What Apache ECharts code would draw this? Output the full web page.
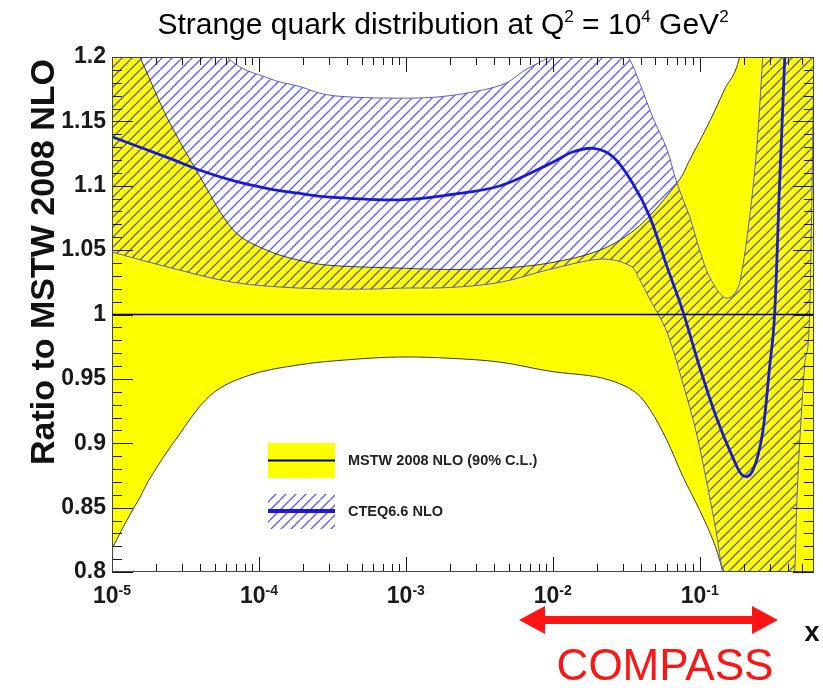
<!DOCTYPE html>
<html>
<head>
<meta charset="utf-8">
<script src="https://cdn.jsdelivr.net/npm/echarts@6/dist/echarts.min.js"></script>
<style>
  html, body { margin: 0; padding: 0; background: #fff; }
  #chart { width: 823px; height: 696px; }
</style>
</head>
<body>
<div id="chart"></div>
<script>
// Axis ranges and tick values
const xMin = 1e-5, xMax = 0.6;
const yMin = 0.8, yMax = 1.2;
const xDecades = [1e-5, 1e-4, 1e-3, 1e-2, 1e-1];
const yLabels = [0.8, 0.85, 0.9, 0.95, 1, 1.05, 1.1, 1.15, 1.2];

// MSTW 2008 NLO 90% C.L. band, as a ratio to its own central value
const mstwUpX = [1e-5, 1.55e-5, 2.37e-5, 3.97e-5, 6.65e-5, 1.13e-4, 1.9e-4, 3.2e-4, 9.1e-4, 2e-3, 4.4e-3, 9.5e-3, 2.1e-2, 3.9e-2, 7e-2, 8.55e-2, 0.117, 0.148, 0.187, 0.25, 0.6];
const mstwUpY = [1.245, 1.2, 1.153, 1.107, 1.066, 1.05, 1.042, 1.038, 1.036, 1.035, 1.036, 1.04, 1.05, 1.069, 1.102, 1.12, 1.15, 1.175, 1.2, 1.28, 1.5];
const mstwLoX = [1e-5, 1.26e-5, 1.55e-5, 1.82e-5, 2.68e-5, 4.65e-5, 8.7e-5, 1.9e-4, 4.2e-4, 9.1e-4, 2e-3, 4.4e-3, 9.5e-3, 2.1e-2, 3.5e-2, 4.6e-2, 6e-2, 7.7e-2, 0.1, 0.123, 0.141, 0.17, 0.6];
const mstwLoY = [0.818, 0.84, 0.858, 0.873, 0.902, 0.937, 0.953, 0.961, 0.965, 0.967, 0.966, 0.963, 0.956, 0.951, 0.941, 0.926, 0.902, 0.874, 0.848, 0.825, 0.804, 0.77, 0.5];
const mstwCentral = [[xMin, 1], [xMax, 1]];

// CTEQ6.6 NLO uncertainty band and central curve, ratio to MSTW 2008 NLO
const cteqUpX = [1e-5, 3e-5, 6.06e-5, 1.13e-4, 1.9e-4, 3.2e-4, 9.1e-4, 2e-3, 4.4e-3, 6.5e-3, 9.5e-3, 1.6e-2, 2.6e-2, 3.34e-2, 3.9e-2, 4.8e-2, 6e-2, 7e-2, 8.55e-2, 0.1, 0.117, 0.148, 0.179, 0.196, 0.219, 0.244, 0.268, 0.3, 0.6];
const cteqUpY = [1.34, 1.25, 1.2, 1.184, 1.177, 1.17, 1.168, 1.17, 1.178, 1.19, 1.2, 1.215, 1.215, 1.198, 1.18, 1.153, 1.128, 1.102, 1.076, 1.05, 1.029, 1.013, 1.019, 1.037, 1.076, 1.128, 1.198, 1.3, 1.6];
const cteqLoX = [1e-5, 2.37e-5, 6.65e-5, 1.9e-4, 5.4e-4, 9.1e-4, 2e-3, 4.4e-3, 9.5e-3, 2.1e-2, 3.34e-2, 3.9e-2, 4.57e-2, 6e-2, 7.66e-2, 9.5e-2, 0.112, 0.13, 0.141, 0.2, 0.3, 0.4, 0.443, 0.457, 0.479, 0.518, 0.56, 0.6];
const cteqLoY = [1.0485, 1.037, 1.025, 1.0205, 1.0197, 1.0205, 1.021, 1.025, 1.035, 1.043, 1.038, 1.027, 1.012, 0.986, 0.947, 0.908, 0.869, 0.83, 0.804, 0.7, 0.66, 0.74, 0.8, 0.85, 0.9, 0.96, 1.0, 1.2];
const cteqX = [1e-5, 2.37e-5, 3.97e-5, 6.65e-5, 1.13e-4, 1.9e-4, 3.2e-4, 9.1e-4, 2e-3, 4.4e-3, 9.5e-3, 1.35e-2, 1.9e-2, 2.6e-2, 3.5e-2, 4.57e-2, 6e-2, 7.66e-2, 0.1, 0.13, 0.168, 0.196, 0.23, 0.268, 0.299, 0.324, 0.35, 0.379, 0.42];
const cteqY = [1.138, 1.122, 1.112, 1.104, 1.098, 1.094, 1.091, 1.089, 1.093, 1.1, 1.117, 1.126, 1.129, 1.122, 1.102, 1.076, 1.037, 1.003, 0.959, 0.92, 0.889, 0.875, 0.879, 0.908, 0.959, 1.001, 1.102, 1.198, 1.35];

const FONT = '"Liberation Sans", Arial, Helvetica, sans-serif';
const YELLOW = '#ffff00';
const BLUE = '#1a1ad6';

// Diagonal "/" hatch tile, used as a repeating fill
function hatchTile(period, color, width) {
  const c = document.createElement('canvas');
  c.width = c.height = period;
  const ctx = c.getContext('2d');
  ctx.strokeStyle = color;
  ctx.lineWidth = width;
  for (const k of [-period, 0, period]) {
    ctx.beginPath();
    ctx.moveTo(k, period);
    ctx.lineTo(k + period, 0);
    ctx.stroke();
  }
  return c;
}
const hatchFill = { image: hatchTile(10, 'rgba(25,25,225,0.68)', 1.4), repeat: 'repeat' };

// Catmull-Rom smoothing of a pixel polyline into cubic Bezier commands
function smoothSegs(pts) {
  let d = '';
  for (let i = 0; i < pts.length - 1; i++) {
    const p0 = pts[Math.max(i - 1, 0)], p1 = pts[i], p2 = pts[i + 1], p3 = pts[Math.min(i + 2, pts.length - 1)];
    const c1x = p1[0] + (p2[0] - p0[0]) / 6, c1y = p1[1] + (p2[1] - p0[1]) / 6;
    const c2x = p2[0] - (p3[0] - p1[0]) / 6, c2y = p2[1] - (p3[1] - p1[1]) / 6;
    d += ' C' + c1x.toFixed(2) + ',' + c1y.toFixed(2) + ' ' + c2x.toFixed(2) + ',' + c2y.toFixed(2) + ' ' + p2[0].toFixed(2) + ',' + p2[1].toFixed(2);
  }
  return d;
}
function toPixels(api, xs, ys) {
  return xs.map((x, i) => api.coord([x, ys[i]]));
}
function openPath(pts) {
  return 'M' + pts[0][0].toFixed(2) + ',' + pts[0][1].toFixed(2) + smoothSegs(pts);
}
function bandPath(up, lo) {
  const rev = lo.slice().reverse();
  return openPath(up) + ' L' + rev[0][0].toFixed(2) + ',' + rev[0][1].toFixed(2) + smoothSegs(rev) + ' Z';
}

function bandSeries(name, upX, upY, loX, loY, fill, edgeColor, z) {
  return {
    type: 'custom',
    name: name,
    z: z,
    clip: true,
    silent: true,
    data: [[1e-3, 1]],
    renderItem: function (params, api) {
      const up = toPixels(api, upX, upY);
      const lo = toPixels(api, loX, loY);
      return {
        type: 'group',
        children: [
          { type: 'path', shape: { pathData: bandPath(up, lo) }, style: { fill: fill, stroke: null } },
          { type: 'path', shape: { pathData: openPath(up) }, style: { fill: null, stroke: edgeColor, lineWidth: 1 } },
          { type: 'path', shape: { pathData: openPath(lo) }, style: { fill: null, stroke: edgeColor, lineWidth: 1 } }
        ]
      };
    }
  };
}

function curveSeries(name, xs, ys, color, width, z) {
  return {
    type: 'custom',
    name: name,
    z: z,
    clip: true,
    silent: true,
    data: [[1e-3, 1]],
    renderItem: function (params, api) {
      return {
        type: 'path',
        shape: { pathData: openPath(toPixels(api, xs, ys)) },
        style: { fill: null, stroke: color, lineWidth: width, lineJoin: 'round' }
      };
    }
  };
}

// Frame and ticks on all four sides (ticks point inwards)
function frameSeries() {
  const xMinor = [];
  for (let e = -5; e <= -1; e++) {
    for (let m = 2; m <= 9; m++) {
      const v = m * Math.pow(10, e);
      if (v < xMax) xMinor.push(v);
    }
  }
  const yMinor = [];
  for (let i = 80; i <= 120; i++) if (i % 5 !== 0) yMinor.push(i / 100);
  return {
    type: 'custom',
    z: 10,
    clip: false,
    silent: true,
    data: [[1e-3, 1]],
    renderItem: function (params, api) {
      const cs = params.coordSys;
      const L = cs.x, R = cs.x + cs.width, T = cs.y, B = cs.y + cs.height;
      const st = { stroke: '#1a1a1a', lineWidth: 1 };
      const kids = [];
      const seg = (x1, y1, x2, y2) => kids.push({ type: 'line', shape: { x1, y1, x2, y2 }, style: st });
      xDecades.forEach(v => {
        const px = Math.round(api.coord([v, yMin])[0]) + 0.5;
        seg(px, B, px, B - 15); seg(px, T, px, T + 15);
      });
      xMinor.forEach(v => {
        const px = Math.round(api.coord([v, yMin])[0]) + 0.5;
        seg(px, B, px, B - 8); seg(px, T, px, T + 8);
      });
      yLabels.forEach(v => {
        const py = Math.round(api.coord([xMin, v])[1]) + 0.5;
        seg(L, py, L + 21, py); seg(R, py, R - 21, py);
      });
      yMinor.forEach(v => {
        const py = Math.round(api.coord([xMin, v])[1]) + 0.5;
        seg(L, py, L + 10, py); seg(R, py, R - 10, py);
      });
      kids.push({ type: 'rect', shape: { x: L + 0.5, y: T + 0.5, width: cs.width - 1, height: cs.height - 1 }, style: { fill: null, stroke: '#444', lineWidth: 1 } });
      return { type: 'group', children: kids };
    }
  };
}

const chart = echarts.init(document.getElementById('chart'), null, { renderer: 'canvas' });

chart.setOption({
  animation: false,
  backgroundColor: '#fff',
  grid: { left: 112, right: 9, top: 57, bottom: 124, containLabel: false },
  xAxis: {
    type: 'log',
    logBase: 10,
    min: xMin,
    max: xMax,
    axisLine: { show: false },
    axisTick: { show: false },
    splitLine: { show: false },
    axisLabel: {
      margin: 12,
      showMaxLabel: false,
      formatter: v => '{b|10}{s|' + Math.round(Math.log10(v)) + '}',
      rich: {
        b: { fontFamily: FONT, fontSize: 23, fontWeight: 'bold', color: '#1a1a1a', lineHeight: 26 },
        s: { fontFamily: FONT, fontSize: 14, fontWeight: 'bold', color: '#1a1a1a', verticalAlign: 'top', lineHeight: 26 }
      }
    }
  },
  yAxis: {
    type: 'value',
    min: yMin,
    max: yMax,
    interval: 0.05,
    axisLine: { show: false },
    axisTick: { show: false },
    splitLine: { show: false },
    axisLabel: {
      margin: 6,
      fontFamily: FONT,
      fontSize: 23,
      fontWeight: 'bold',
      color: '#1a1a1a',
      formatter: v => String(+v.toFixed(2))
    }
  },
  series: [
    bandSeries('MSTW 2008 NLO (90% C.L.)', mstwUpX, mstwUpY, mstwLoX, mstwLoY, YELLOW, '#3a3a3a', 1),
    bandSeries('CTEQ6.6 NLO band', cteqUpX, cteqUpY, cteqLoX, cteqLoY, hatchFill, '#5a5ad0', 2),
    {
      type: 'line', name: 'MSTW 2008 NLO', z: 3, silent: true,
      data: mstwCentral, symbol: 'none',
      lineStyle: { color: '#000', width: 1.6 }
    },
    curveSeries('CTEQ6.6 NLO', cteqX, cteqY, BLUE, 2.8, 4),
    frameSeries()
  ],
  graphic: [
    {
      type: 'text', x: 443, y: 26, silent: true,
      style: {
        text: '{t|Strange quark distribution at Q}{s|2}{t| = 10}{s|4}{t| GeV}{s|2}',
        align: 'center', verticalAlign: 'middle',
        rich: {
          t: { fontFamily: FONT, fontSize: 30, color: '#111', lineHeight: 34 },
          s: { fontFamily: FONT, fontSize: 17, color: '#111', verticalAlign: 'top', lineHeight: 34 }
        }
      }
    },
    {
      type: 'text', x: 45, y: 262, rotation: Math.PI / 2, silent: true,
      style: {
        text: 'Ratio to MSTW 2008 NLO', align: 'center', verticalAlign: 'middle',
        fontFamily: FONT, fontSize: 34, fontWeight: 'bold', fill: '#111'
      }
    },
    {
      type: 'text', x: 812, y: 634, silent: true,
      style: { text: 'x', align: 'center', verticalAlign: 'middle', fontFamily: FONT, fontSize: 27, fontWeight: 'bold', fill: '#111' }
    },
    // legend
    { type: 'rect', silent: true, shape: { x: 268, y: 443, width: 67, height: 35 }, style: { fill: YELLOW } },
    { type: 'line', silent: true, shape: { x1: 268, y1: 460.5, x2: 335, y2: 460.5 }, style: { stroke: '#000', lineWidth: 2 } },
    { type: 'rect', silent: true, shape: { x: 268, y: 494, width: 67, height: 35 }, style: { fill: hatchFill } },
    { type: 'line', silent: true, shape: { x1: 268, y1: 511, x2: 335, y2: 511 }, style: { stroke: BLUE, lineWidth: 4 } },
    {
      type: 'text', x: 348, y: 461, silent: true,
      style: { text: 'MSTW 2008 NLO (90% C.L.)', verticalAlign: 'middle', fontFamily: FONT, fontSize: 14.5, fontWeight: 'bold', fill: '#222' }
    },
    {
      type: 'text', x: 348, y: 512, silent: true,
      style: { text: 'CTEQ6.6 NLO', verticalAlign: 'middle', fontFamily: FONT, fontSize: 14.5, fontWeight: 'bold', fill: '#222' }
    },
    // COMPASS kinematic range arrow
    {
      type: 'polygon', silent: true,
      shape: { points: [[519, 620], [545, 606], [545, 616], [752, 616], [752, 606], [778, 620], [752, 634], [752, 624], [545, 624], [545, 634]] },
      style: { fill: '#ff1414' }
    },
    {
      type: 'text', x: 665, y: 668, silent: true,
      style: { text: 'COMPASS', align: 'center', verticalAlign: 'middle', fontFamily: FONT, fontSize: 44, fill: '#ff1414' }
    }
  ]
});
</script>
</body>
</html>
